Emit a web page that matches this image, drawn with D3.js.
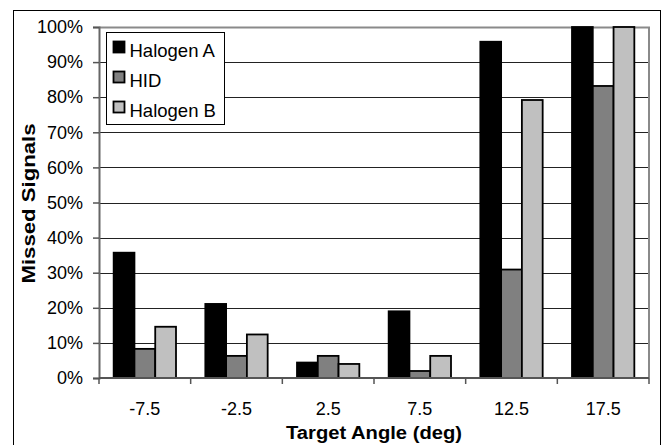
<!DOCTYPE html>
<html>
<head>
<meta charset="utf-8">
<script src="https://cdn.jsdelivr.net/npm/d3@7"></script>
<style>
  body { margin: 0; background: #fff; }
  text { font-family: "Liberation Sans", Arial, sans-serif; }
</style>
</head>
<body>
<div id="chart"></div>
<script>
// data (percent missed)
var angles = ["-7.5", "-2.5", "2.5", "7.5", "12.5", "17.5"];
var seriesNames = ["Halogen A", "HID", "Halogen B"];
var halogenA = [35.7, 21.1, 4.4, 19.0, 95.8, 100];
var hid = [8.3, 6.3, 6.3, 2.0, 30.9, 83.2];
var halogenB = [14.6, 12.4, 4.0, 6.3, 79.2, 100];
var yTicks = [0, 10, 20, 30, 40, 50, 60, 70, 80, 90, 100];

var colors = ["#000000", "#808080", "#c0c0c0"];
var seriesVals = [halogenA, hid, halogenB];

var svgWidth = 666, svgHeight = 445;
var margin = { top: 27, right: 17, bottom: 67, left: 99 };
var chartWidth = svgWidth - margin.left - margin.right;   // 550
var chartHeight = svgHeight - margin.top - margin.bottom; // 351

var svg = d3.select("#chart").append("svg")
    .attr("width", svgWidth)
    .attr("height", svgHeight);

// outer chart border
svg.append("rect")
    .attr("x", 13.5).attr("y", 10.5)
    .attr("width", 647).attr("height", 445)
    .attr("fill", "#fff")
    .attr("stroke", "#000")
    .attr("stroke-width", 1);

var g = svg.append("g")
    .attr("transform", `translate(${margin.left}, ${margin.top})`);

var xScale = d3.scaleBand()
    .domain(angles)
    .range([0, chartWidth])
    .paddingInner(0.32)
    .paddingOuter(0.16);

var xInner = d3.scaleBand()
    .domain(seriesNames)
    .range([0, xScale.bandwidth()]);

var yScale = d3.scaleLinear()
    .domain([0, 100])
    .range([chartHeight, 0]);

// gridlines
g.selectAll(".grid")
    .data(yTicks.slice(1))
    .enter()
    .append("line")
    .attr("class", "grid")
    .attr("x1", 0).attr("x2", chartWidth)
    .attr("y1", d => Math.round(yScale(d)) + 0.5)
    .attr("y2", d => Math.round(yScale(d)) + 0.5)
    .attr("stroke", "#222")
    .attr("stroke-width", 1);

// plot area frame (top & right, gray)
g.append("path")
    .attr("d", `M0,0.5H${chartWidth}V${chartHeight}`)
    .attr("fill", "none")
    .attr("stroke", "#8a8a8a")
    .attr("stroke-width", 2);

// bars
var rows = [];
angles.forEach((a, i) => {
    seriesNames.forEach((s, j) => {
        rows.push({ angle: a, series: s, value: seriesVals[j][i], color: colors[j] });
    });
});

g.selectAll(".bar")
    .data(rows)
    .enter()
    .append("rect")
    .attr("class", "bar")
    .attr("x", d => xScale(d.angle) + xInner(d.series))
    .attr("y", d => yScale(d.value))
    .attr("width", xInner.bandwidth())
    .attr("height", d => chartHeight - yScale(d.value))
    .attr("fill", d => d.color)
    .attr("stroke", "#000")
    .attr("stroke-width", 1.8);

// y axis
var yAxis = d3.axisLeft(yScale)
    .tickValues(yTicks)
    .tickFormat(d => d + "%")
    .tickSize(6)
    .tickPadding(10);

var yG = g.append("g").call(yAxis);
yG.select(".domain").attr("stroke", "#666").attr("stroke-width", 2);
yG.selectAll(".tick line").attr("stroke", "#555").attr("stroke-width", 1.5);
yG.selectAll(".tick text")
    .attr("fill", "#000")
    .style("font-size", "18px")
    .style("font-family", "'Liberation Sans', Arial, sans-serif");

// x axis with ticks at category boundaries
g.append("line")
    .attr("x1", 0).attr("x2", chartWidth)
    .attr("y1", chartHeight).attr("y2", chartHeight)
    .attr("stroke", "#555").attr("stroke-width", 2);

var boundaries = angles.map(a => xScale(a) - xScale.step() * xScale.paddingInner() / 2)
    .concat([chartWidth]);
g.selectAll(".xtick")
    .data(boundaries)
    .enter()
    .append("line")
    .attr("class", "xtick")
    .attr("x1", d => d).attr("x2", d => d)
    .attr("y1", chartHeight).attr("y2", chartHeight + 6)
    .attr("stroke", "#555").attr("stroke-width", 1.5);

g.selectAll(".xlabel")
    .data(angles)
    .enter()
    .append("text")
    .attr("class", "xlabel")
    .attr("x", d => xScale(d) + xScale.bandwidth() / 2)
    .attr("y", chartHeight + 37)
    .attr("text-anchor", "middle")
    .style("font-size", "18px")
    .text(d => d);

// axis titles
g.append("text")
    .attr("x", chartWidth / 2)
    .attr("y", chartHeight + 61)
    .attr("text-anchor", "middle")
    .attr("textLength", 176)
    .attr("lengthAdjust", "spacingAndGlyphs")
    .style("font-size", "18px")
    .style("font-weight", "bold")
    .text("Target Angle (deg)");

g.append("text")
    .attr("transform", `translate(${-64}, ${chartHeight / 2 + 1}) rotate(-90)`)
    .attr("text-anchor", "middle")
    .attr("textLength", 160)
    .attr("lengthAdjust", "spacingAndGlyphs")
    .style("font-size", "18px")
    .style("font-weight", "bold")
    .text("Missed Signals");

// legend
var legend = svg.append("g")
    .attr("transform", "translate(106.5, 32.5)");

legend.append("rect")
    .attr("width", 118).attr("height", 92)
    .attr("fill", "#fff")
    .attr("stroke", "#000")
    .attr("stroke-width", 1);

var items = legend.selectAll(".item")
    .data(seriesNames)
    .enter()
    .append("g")
    .attr("class", "item")
    .attr("transform", (d, i) => `translate(0, ${i * 30})`);

items.append("rect")
    .attr("x", 7).attr("y", 9)
    .attr("width", 11).attr("height", 11)
    .attr("fill", (d, i) => colors[i])
    .attr("stroke", "#000")
    .attr("stroke-width", 1.8);

items.append("text")
    .attr("x", 23)
    .attr("y", 24)
    .style("font-size", "18.5px")
    .text(d => d);
</script>
</body>
</html>
